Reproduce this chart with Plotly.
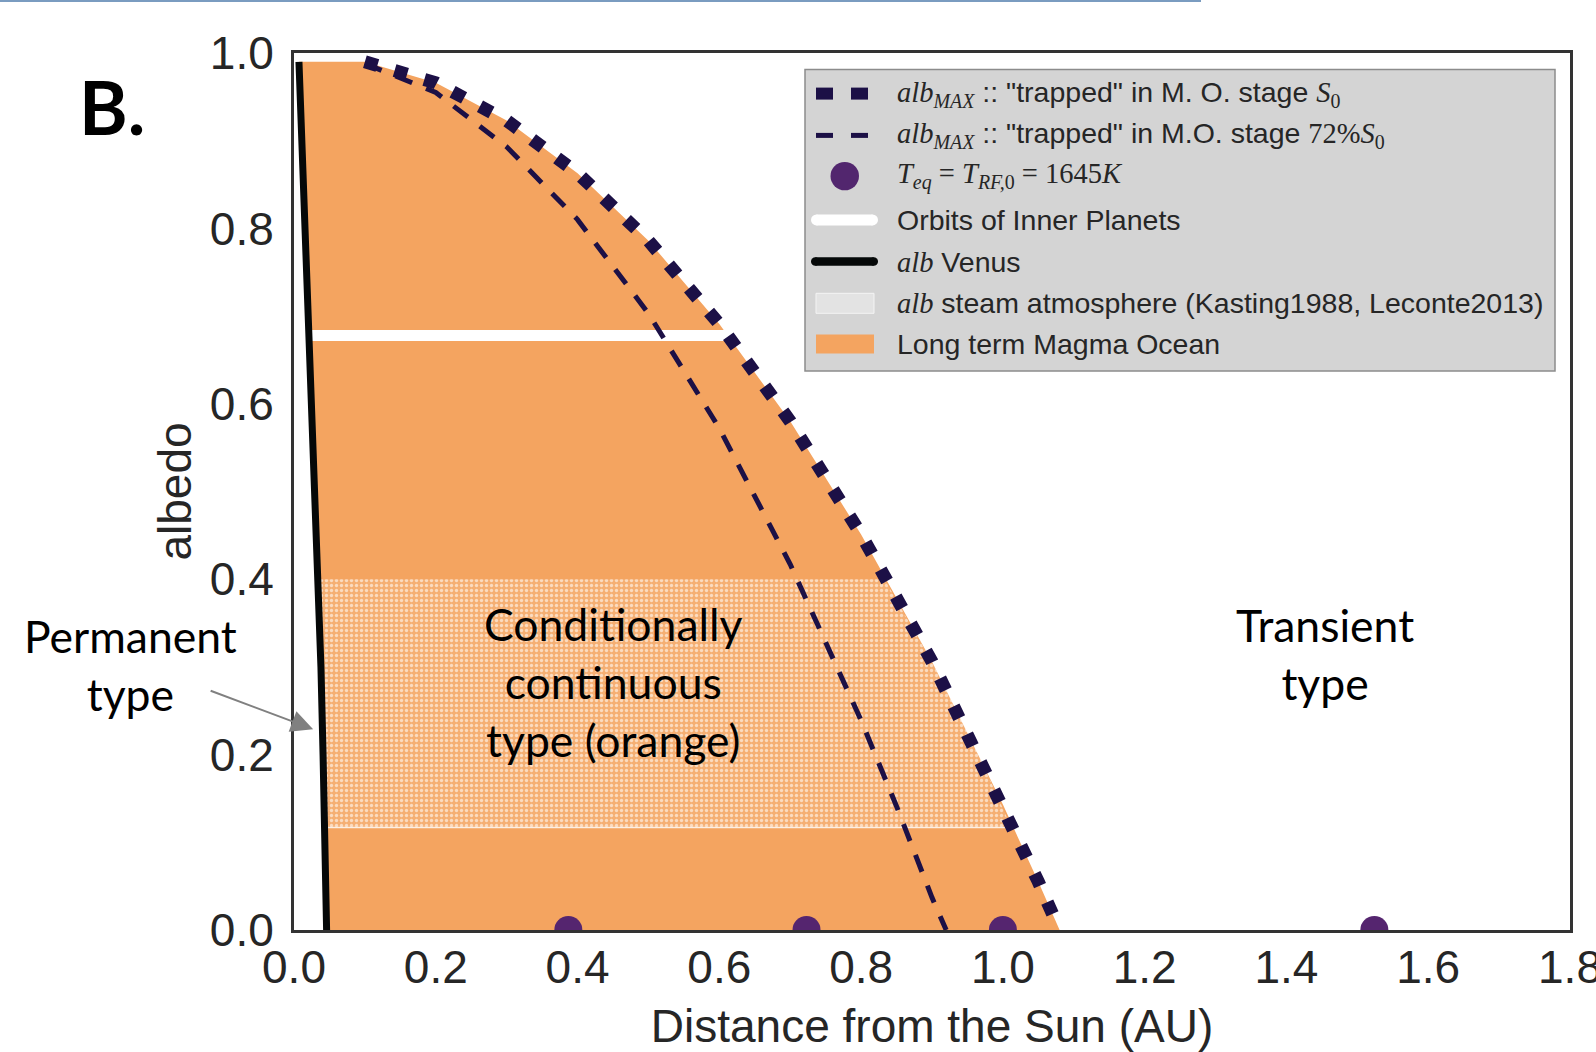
import plotly.graph_objects as go

# ---------------- data ----------------
# alb_MAX, planet "trapped" in magma-ocean stage at S0 (thick dotted)
s0_dist = [0.10, 0.20, 0.30, 0.40, 0.50, 0.60, 0.70, 0.80, 0.90, 1.00, 1.05, 1.08]
s0_alb = [0.990, 0.966, 0.923, 0.863, 0.786, 0.691, 0.580, 0.451, 0.306, 0.143, 0.055, 0.0]

# alb_MAX at 72% S0 (dashed)
s72_dist = [0.10, 0.20, 0.30, 0.40, 0.50, 0.60, 0.70, 0.80, 0.85, 0.90, 0.92]
s72_alb = [0.988, 0.955, 0.893, 0.810, 0.703, 0.572, 0.417, 0.239, 0.141, 0.037, 0.0]

# alb Venus (black solid)
venus_dist = [0.007, 0.011, 0.015, 0.020, 0.025, 0.030, 0.035, 0.038, 0.041, 0.044, 0.046]
venus_alb = [0.99, 0.90, 0.80, 0.72, 0.60, 0.50, 0.40, 0.30, 0.20, 0.10, 0.0]

# Teq = T_RF,0 = 1645 K points (Mercury, Venus, Earth, Mars orbits)
planet_dist = [0.387, 0.723, 1.000, 1.524]
planet_alb = [0.0, 0.0, 0.0, 0.0]

# Orbits of inner planets (white line)
orbit_dist = [0.020, 0.613]
orbit_alb = [0.678, 0.678]

# steam atmosphere albedo band (Kasting1988, Leconte2013)
steam_dist = [0.037, 0.833, 0.904, 0.966, 1.012, 0.044, 0.037]
steam_alb = [0.400, 0.400, 0.300, 0.200, 0.117, 0.117, 0.400]

x_ticks = [0.0, 0.2, 0.4, 0.6, 0.8, 1.0, 1.2, 1.4, 1.6, 1.8]
y_ticks = [0.0, 0.2, 0.4, 0.6, 0.8, 1.0]

# legend entries (in order)
SERIF = "font-family:Liberation Serif"


def m(s):
    return f'<span style="{SERIF}">{s}</span>'


legend_labels = [
    m("<i>alb</i><sub><i>MAX</i></sub>") + ' :: "trapped" in M. O. stage ' + m("<i>S</i><sub>0</sub>"),
    m("<i>alb</i><sub><i>MAX</i></sub>") + ' :: "trapped" in M.O. stage ' + m("72%<i>S</i><sub>0</sub>"),
    m("<i>T</i><sub><i>eq</i></sub> = <i>T</i><sub><i>RF,</i>0</sub> = 1645<i>K</i>"),
    "Orbits of Inner Planets",
    m("<i>alb</i>") + " Venus",
    m("<i>alb</i>") + " steam atmosphere (Kasting1988, Leconte2013)",
    "Long term Magma Ocean",
]

# Long-term magma ocean region: bounded by Venus curve and S0 curve
mo_dist = venus_dist[::-1] + s0_dist
mo_alb = venus_alb[::-1] + s0_alb

# ---------------- styles ----------------
ORANGE = "#f4a460"
NAVY = "#1c1046"
PURPLE = "#55256f"
TXT = "#262626"

# plot area in pixels (for placing the hand-built legend)
W, H = 1596, 1052
ML, MR, MT, MB = 294, 26, 53, 122
PW, PH = W - ML - MR, H - MT - MB


def px(X):
    return (X - ML) / PW


def py(Y):
    return (H - MB - Y) / PH


fig = go.Figure()

fig.add_trace(go.Scatter(
    x=mo_dist, y=mo_alb, mode="lines", fill="toself", fillcolor=ORANGE,
    line=dict(width=0, color=ORANGE), name="Long term Magma Ocean", hoverinfo="skip"))

fig.add_trace(go.Scatter(
    x=steam_dist, y=steam_alb, mode="lines", fill="toself",
    fillcolor="rgba(255,255,255,0.12)",
    fillpattern=dict(shape=".", fgcolor="white", fgopacity=0.55, size=5, solidity=0.35),
    line=dict(width=0, color="rgba(255,255,255,0.6)"),
    name="steam atmosphere", hoverinfo="skip"))

fig.add_trace(go.Scatter(
    x=[steam_dist[4], steam_dist[5]], y=[steam_alb[4], steam_alb[5]], mode="lines",
    line=dict(width=1.5, color="rgba(255,255,255,0.8)"), hoverinfo="skip"))

fig.add_trace(go.Scatter(
    x=orbit_dist, y=orbit_alb, mode="lines", line=dict(color="white", width=11),
    name="Orbits of Inner Planets"))

fig.add_trace(go.Scatter(
    x=venus_dist, y=venus_alb, mode="lines", line=dict(color="#050808", width=7),
    name="alb Venus"))

fig.add_trace(go.Scatter(
    x=s72_dist, y=s72_alb, mode="lines", line=dict(color=NAVY, width=5, dash="18px,15px"),
    name="alb_MAX 72% S0"))

fig.add_trace(go.Scatter(
    x=s0_dist, y=s0_alb, mode="lines", line=dict(color=NAVY, width=13, dash="13px,18px"),
    name="alb_MAX S0"))

fig.add_trace(go.Scatter(
    x=planet_dist, y=planet_alb, mode="markers", cliponaxis=True,
    marker=dict(color=PURPLE, size=28, line=dict(width=0)), name="Teq"))

# ---------------- hand-built legend ----------------
row_y = [93.6, 135.4, 176.1, 219.9, 261.6, 303.3, 344.0]
shapes = [
    dict(type="line", xref="paper", yref="paper", x0=px(0), x1=px(1201),
         y0=py(1), y1=py(1), line=dict(color="#7a9cc0", width=2)),
    dict(type="rect", xref="paper", yref="paper", x0=px(805), x1=px(1555),
         y0=py(69.5), y1=py(371), fillcolor="#d4d4d4",
         line=dict(color="#8c8c8c", width=1.5), layer="above"),
]
# dotted S0 sample: two squares
for a, b in [(816, 833), (851, 868)]:
    shapes.append(dict(type="rect", xref="paper", yref="paper", x0=px(a), x1=px(b),
                       y0=py(row_y[0] - 6), y1=py(row_y[0] + 6), fillcolor=NAVY,
                       line=dict(width=0), layer="above"))
# dashed 72% sample: two dashes
for a, b in [(816, 833), (851, 868)]:
    shapes.append(dict(type="rect", xref="paper", yref="paper", x0=px(a), x1=px(b),
                       y0=py(row_y[1] - 2.5), y1=py(row_y[1] + 2.5), fillcolor=NAVY,
                       line=dict(width=0), layer="above"))
# marker sample
shapes.append(dict(type="circle", xref="paper", yref="paper", x0=px(830.5), x1=px(859),
                   y0=py(row_y[2] - 14.2), y1=py(row_y[2] + 14.2), fillcolor="#52266e",
                   line=dict(width=0), layer="above"))
# white line sample / black line sample (rounded ends)
for yy, col, th in [(row_y[3], "white", 11), (row_y[4], "#050808", 8.5)]:
    shapes.append(dict(type="rect", xref="paper", yref="paper", x0=px(811 + th / 2),
                       x1=px(878 - th / 2), y0=py(yy - th / 2), y1=py(yy + th / 2),
                       fillcolor=col, line=dict(width=0), layer="above"))
    for cx in (811 + th / 2, 878 - th / 2):
        shapes.append(dict(type="circle", xref="paper", yref="paper", x0=px(cx - th / 2),
                           x1=px(cx + th / 2), y0=py(yy - th / 2), y1=py(yy + th / 2),
                           fillcolor=col, line=dict(width=0), layer="above"))
# steam sample
shapes.append(dict(type="rect", xref="paper", yref="paper", x0=px(816), x1=px(874),
                   y0=py(row_y[5] - 10), y1=py(row_y[5] + 10), fillcolor="#e3e3e3",
                   line=dict(color="#f4f4f4", width=1), layer="above"))
# magma ocean sample
shapes.append(dict(type="rect", xref="paper", yref="paper", x0=px(816), x1=px(874),
                   y0=py(row_y[6] - 9.5), y1=py(row_y[6] + 9.5), fillcolor=ORANGE,
                   line=dict(width=0), layer="above"))

LEG_FONT = dict(family="Liberation Sans, Arial", size=28.5, color=TXT)
annotations = []
for lab, yy in zip(legend_labels, row_y):
    annotations.append(dict(text=lab, x=px(894.5), y=py(yy), xref="paper", yref="paper",
                            xanchor="left", yanchor="middle", showarrow=False, font=LEG_FONT))

ANN = "Lato"
annotations += [
    dict(text="Conditionally<br>continuous<br>type (orange)", x=0.45, y=0.283,
         xref="x", yref="y", showarrow=False, xanchor="center", yanchor="middle",
         font=dict(family=ANN, size=44.5, color="black")),
    dict(text="Transient<br>type", x=1.455, y=0.3155, xref="x", yref="y", showarrow=False,
         xanchor="center", yanchor="middle", font=dict(family=ANN, size=44.5, color="black")),
    dict(text="Permanent<br>type", x=-0.1285, y=0.3027, xref="paper", yref="paper",
         xanchor="center", yanchor="middle",
         showarrow=False, font=dict(family=ANN, size=44.5, color="black")),
    dict(text="<b>B.</b>", x=-0.1426, y=0.9395, xref="paper", yref="paper", showarrow=False,
         xanchor="center", yanchor="middle", font=dict(family=ANN, size=74, color="black")),
    dict(text="", x=0.027, y=0.229, xref="x", yref="y", ax=-104, ay=-39, showarrow=True,
         arrowcolor="#808080", arrowwidth=2, arrowhead=2, arrowsize=2.2),
]

axis_common = dict(
    showgrid=False, zeroline=False, showline=True, mirror=True, linecolor="#333333",
    linewidth=3, ticks="outside", ticklen=0, tickcolor="#333333", automargin=False,
    ticklabeloverflow="allow",
    tickfont=dict(family="Liberation Sans, Arial", size=46, color=TXT),
    title_font=dict(family="Liberation Sans, Arial", size=46, color=TXT),
    tickformat=".1f",
)

fig.update_layout(
    width=W, height=H,
    margin=dict(l=ML, r=MR, t=MT, b=MB, autoexpand=False),
    paper_bgcolor="white", plot_bgcolor="white",
    xaxis=dict(range=[0, 1.8], tickvals=x_ticks, title_text="Distance from the Sun (AU)",
               title_standoff=25, ticklabelstandoff=-5, **axis_common),
    yaxis=dict(range=[0, 1.0], tickvals=y_ticks, title_text="albedo", title_standoff=4,
               ticklabelstandoff=8, **axis_common),
    showlegend=False,
    annotations=annotations,
    shapes=shapes,
)

fig.write_html("out.html", config={"displayModeBar": False},
               post_script="document.body.style.margin='0';document.body.style.overflow='hidden';")
